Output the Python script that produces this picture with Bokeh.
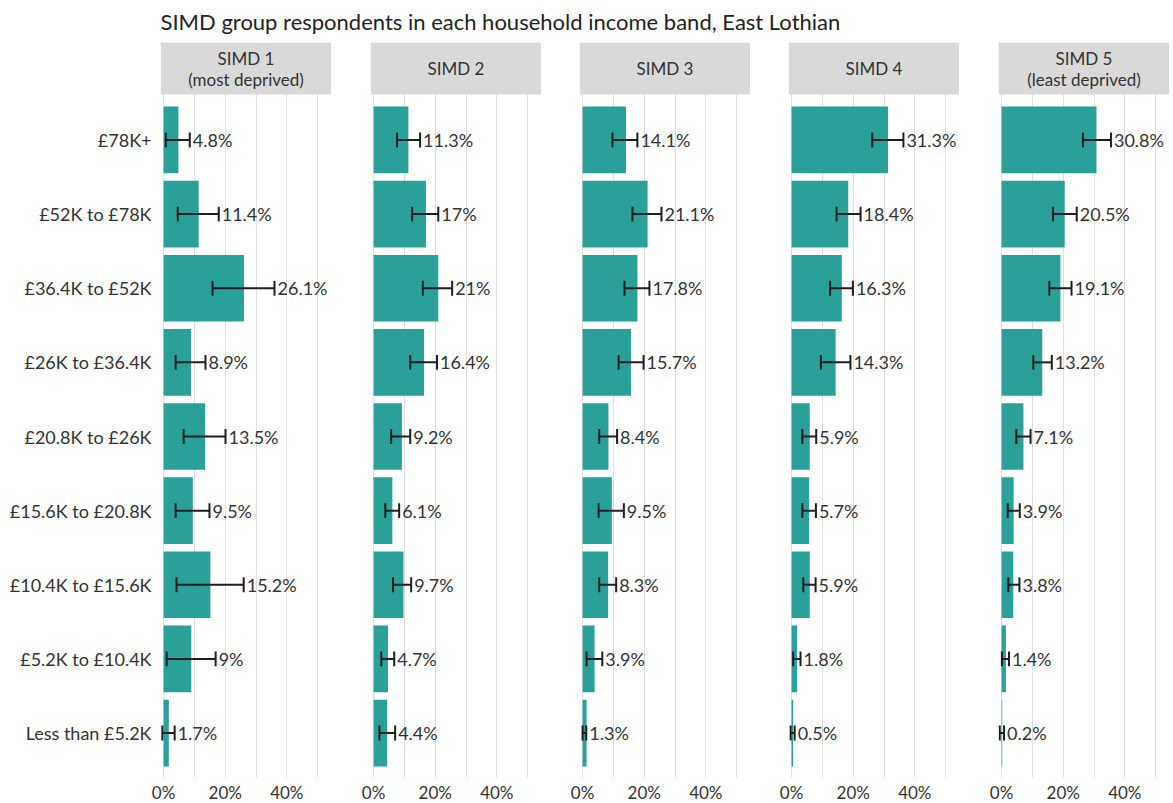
from bokeh.plotting import figure
from bokeh.layouts import column, row
from bokeh.models import ColumnDataSource, FixedTicker, Range1d
from bokeh.core.properties import value
from bokeh.embed import file_html
from bokeh.resources import INLINE

# ---------------- data ----------------
subtitle = "SIMD group respondents in each household income band, East Lothian"

bands = ["£78K+", "£52K to £78K", "£36.4K to £52K", "£26K to £36.4K",
         "£20.8K to £26K", "£15.6K to £20.8K", "£10.4K to £15.6K",
         "£5.2K to £10.4K", "Less than £5.2K"]

panel_titles = ["SIMD 1\n(most deprived)", "SIMD 2", "SIMD 3", "SIMD 4",
                "SIMD 5\n(least deprived)"]

simd1_pct = [4.8, 11.4, 26.1, 8.9, 13.5, 9.5, 15.2, 9.0, 1.7]
simd1_lo = [0.7, 4.6, 15.9, 3.9, 6.5, 3.9, 4.2, 1.0, -0.4]
simd1_hi = [8.5, 17.9, 36.0, 13.6, 20.1, 14.9, 26.0, 16.9, 3.6]

simd2_pct = [11.3, 17.0, 21.0, 16.4, 9.2, 6.1, 9.7, 4.7, 4.4]
simd2_lo = [7.6, 12.5, 16.0, 11.9, 5.7, 3.8, 6.3, 2.5, 1.9]
simd2_hi = [15.1, 21.0, 25.5, 20.6, 11.9, 8.3, 12.2, 6.7, 7.0]

simd3_pct = [14.1, 21.1, 17.8, 15.7, 8.4, 9.5, 8.3, 3.9, 1.3]
simd3_lo = [9.7, 16.2, 13.6, 11.7, 5.4, 5.2, 5.4, 1.3, 0.0]
simd3_hi = [17.8, 25.6, 21.7, 19.8, 11.2, 13.4, 10.9, 6.4, 1.2]

simd4_pct = [31.3, 18.4, 16.3, 14.3, 5.9, 5.7, 5.9, 1.8, 0.5]
simd4_lo = [26.2, 14.6, 12.5, 9.5, 3.5, 3.5, 3.8, 0.5, -0.3]
simd4_hi = [36.3, 22.4, 19.9, 19.1, 8.0, 7.9, 7.8, 2.9, 1.0]

simd5_pct = [30.8, 20.5, 19.1, 13.2, 7.1, 3.9, 3.8, 1.4, 0.2]
simd5_lo = [26.4, 16.7, 15.5, 10.3, 4.8, 2.0, 2.2, 0.1, -0.6]
simd5_hi = [35.5, 24.4, 22.7, 16.3, 9.4, 5.9, 5.8, 2.4, 0.8]

x_ticks = [0, 20, 40]
x_tick_labels = {0: "0%", 20: "20%", 40: "40%"}
grid_ticks = [0, 10, 20, 30, 40, 50]

series = [
    (simd1_pct, simd1_lo, simd1_hi),
    (simd2_pct, simd2_lo, simd2_hi),
    (simd3_pct, simd3_lo, simd3_hi),
    (simd4_pct, simd4_lo, simd4_hi),
    (simd5_pct, simd5_lo, simd5_hi),
]

# ---------------- styling / layout ----------------
FONT = "Lato"
TEXT = "#333333"
TEAL = "#2aa198"
STRIP = "#d9d9d9"
GRID = "#dedede"
WHISKER = "#1e1e1e"

n = len(bands)
ypos = list(range(n, 0, -1))  # top band drawn highest

FRAME_W, FRAME_H = 171, 735
LEFT_BORDERS = [160, 39, 38, 38, 39]
STRIP_PX, GAP_PX = 52, 1
px_per_unit = (FRAME_H - STRIP_PX - GAP_PX) / (n + 0.2)
Y0 = 0.4
Y_DATA_TOP = n + 0.6
Y_END = Y_DATA_TOP + (STRIP_PX + GAP_PX) / px_per_unit
STRIP_BOTTOM = Y_DATA_TOP + GAP_PX / px_per_unit
X_START, X_END = -1.0, 54.5
CAP = 0.1

panels = []
for i, (vals, lo, hi) in enumerate(series):
    src = ColumnDataSource(dict(
        y=ypos, v=vals, lo=lo, hi=hi,
        c0=[y - CAP for y in ypos], c1=[y + CAP for y in ypos],
        label=[f"{v:g}%" for v in vals],
    ))
    p = figure(frame_width=FRAME_W, frame_height=FRAME_H,
               x_range=Range1d(X_START, X_END), y_range=Range1d(Y0, Y_END),
               output_backend="svg", toolbar_location=None,
               min_border_left=LEFT_BORDERS[i], min_border_right=0,
               min_border_top=0, min_border_bottom=25,
               y_axis_location="left" if i == 0 else None)
    p.outline_line_color = None
    p.background_fill_color = "white"

    # strip header
    p.quad(left=X_START, right=X_END, bottom=STRIP_BOTTOM, top=Y_END,
           fill_color=STRIP, line_color=None)
    p.text(x=[(X_START + X_END) / 2], y=[(STRIP_BOTTOM + Y_END) / 2],
           text=[panel_titles[i]], text_align="center", text_baseline="middle",
           text_font=value(FONT), text_font_size="17px", text_color=TEXT,
           text_line_height=1.0)

    # bars
    p.hbar(y="y", left=0, right="v", height=0.9, source=src,
           fill_color=TEAL, line_color=None)
    # error bars
    p.segment(x0="lo", y0="y", x1="hi", y1="y", source=src,
              line_color=WHISKER, line_width=2)
    p.segment(x0="lo", y0="c0", x1="lo", y1="c1", source=src,
              line_color=WHISKER, line_width=2)
    p.segment(x0="hi", y0="c0", x1="hi", y1="c1", source=src,
              line_color=WHISKER, line_width=2)
    # value labels
    p.text(x="hi", y="y", text="label", source=src, x_offset=3,
           text_align="left", text_baseline="middle",
           text_font=value(FONT), text_font_size="18px", text_color=TEXT)

    # axes & grid
    p.xaxis.ticker = FixedTicker(ticks=x_ticks)
    p.xaxis.major_label_overrides = x_tick_labels
    p.xaxis.axis_line_color = None
    p.xaxis.major_tick_line_color = None
    p.xaxis.minor_tick_line_color = None
    p.xaxis.major_tick_out = 0
    p.xaxis.major_tick_in = 0
    p.xaxis.minor_tick_out = 0
    p.xaxis.major_label_text_font = FONT
    p.xaxis.major_label_text_font_size = "17px"
    p.xaxis.major_label_text_color = TEXT
    p.xaxis.major_label_standoff = 4
    p.xgrid.ticker = FixedTicker(ticks=grid_ticks)
    p.xgrid.grid_line_color = GRID
    p.xgrid.grid_line_width = 1
    p.ygrid.grid_line_color = None
    if i == 0:
        p.yaxis.ticker = FixedTicker(ticks=ypos)
        p.yaxis.major_label_overrides = {y: b for y, b in zip(ypos, bands)}
        p.yaxis.axis_line_color = None
        p.yaxis.major_tick_line_color = None
        p.yaxis.minor_tick_line_color = None
        p.yaxis.major_tick_out = 0
        p.yaxis.major_tick_in = 0
        p.yaxis.minor_tick_out = 0
        p.yaxis.major_label_text_font = FONT
        p.yaxis.major_label_text_font_size = "18px"
        p.yaxis.major_label_text_color = TEXT
        p.yaxis.major_label_standoff = 9
    panels.append(p)

# header with subtitle
TOTAL_W = sum(LEFT_BORDERS) + 5 * FRAME_W
HEADER_H = 42
h = figure(width=TOTAL_W, height=HEADER_H, x_range=Range1d(0, TOTAL_W),
           y_range=Range1d(0, HEADER_H), x_axis_location=None,
           y_axis_location=None, min_border=0, toolbar_location=None,
           output_backend="svg")
h.outline_line_color = None
h.grid.grid_line_color = None
h.text(x=[LEFT_BORDERS[0]], y=[HEADER_H - 21], text=[subtitle], text_align="left",
       text_baseline="middle", text_font=value(FONT),
       text_font_size="22px", text_color="#222222")

layout = column(h, row(*panels))
open("out.html", "w").write(file_html(layout, INLINE))
